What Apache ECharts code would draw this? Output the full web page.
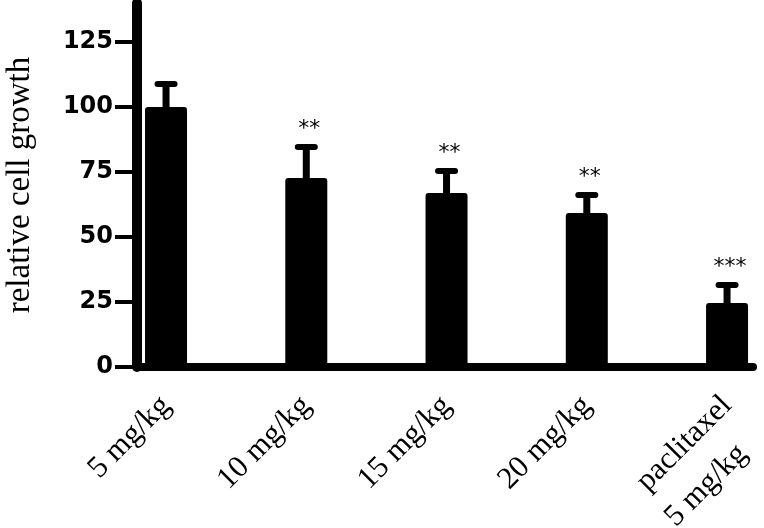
<!DOCTYPE html>
<html><head><meta charset="utf-8">
<script src="https://cdn.jsdelivr.net/npm/echarts@6/dist/echarts.min.js"></script>
<style>html,body{margin:0;padding:0;background:#fff}#c{width:764px;height:528px}</style>
</head><body><div id="c"></div>
<script>
const categories = ['5 mg/kg', '10 mg/kg', '15 mg/kg', '20 mg/kg', 'paclitaxel\n5 mg/kg'];
const positions = [0, 1, 2, 3, 4];
const means = [100, 72.7, 66.9, 59.2, 24.6];
const errors = [8.8, 11.9, 8.5, 7.0, 6.9];
const significance = ['', '**', '**', '**', '***'];
const yTicks = [0, 25, 50, 75, 100, 125];

function xLabel(v) {
  const lines = categories[Math.round(v)].split('\n');
  if (lines.length === 1) return lines[0];
  // keep first line at the usual anchor; second line below it
  return ' \n' + lines[0] + '\n' + lines[1] + '   ';
}

const chart = echarts.init(document.getElementById('c'));
chart.setOption({
  animation: false,
  backgroundColor: '#fff',
  grid: { left: 137, right: 11, top: 3, bottom: 161, outerBoundsMode: 'none', containLabel: false },
  xAxis: {
    type: 'value', min: -0.207, max: 4.185,
    axisLine: { show: true, onZero: false, lineStyle: { color: '#000', width: 8, cap: 'round' } },
    axisTick: { show: false },
    splitLine: { show: false },
    axisLabel: {
      customValues: positions,
      formatter: xLabel,
      rotate: 45, margin: 34,
      fontFamily: 'Liberation Serif', fontSize: 31, color: '#000', lineHeight: 45
    }
  },
  yAxis: {
    type: 'value', min: 0, max: 140,
    name: 'relative cell growth', nameLocation: 'middle', nameRotate: 90, nameGap: 100,
    nameTextStyle: { fontFamily: 'Liberation Serif', fontSize: 33, color: '#000' },
    axisLine: { show: true, onZero: false, lineStyle: { color: '#000', width: 10 } },
    axisTick: { show: true, customValues: yTicks, length: 22, lineStyle: { color: '#000', width: 4 } },
    splitLine: { show: false },
    axisLabel: {
      customValues: yTicks, margin: 24,
      fontFamily: 'DejaVu Sans', fontWeight: 'bold', fontSize: 24, color: '#000'
    }
  },
  series: [
    {
      type: 'bar', barWidth: 42,
      data: positions.map(i => [i, means[i]]),
      itemStyle: { color: '#000', borderRadius: [3, 3, 0, 0] },
      z: 2
    },
    {
      type: 'custom',
      data: positions.map(i => [i, means[i], errors[i]]),
      renderItem: function (params, api) {
        const x = api.value(0), m = api.value(1), e = api.value(2);
        const top = api.coord([x, m + e]);
        const base = api.coord([x, m]);
        return {
          type: 'group',
          children: [
            { type: 'rect', shape: { x: top[0] - 3.5, y: top[1], width: 7, height: base[1] - top[1] + 2 }, style: { fill: '#000' } },
            { type: 'rect', shape: { x: top[0] - 11.5, y: top[1] - 3, width: 23, height: 6, r: 3 }, style: { fill: '#000' } },
            { type: 'text', style: { x: top[0] + 3, y: top[1] - 18, text: significance[params.dataIndex], align: 'center', verticalAlign: 'middle', font: '22px "DejaVu Sans"', fill: '#000' } }
          ]
        };
      },
      z: 3
    }
  ]
});
</script></body></html>
